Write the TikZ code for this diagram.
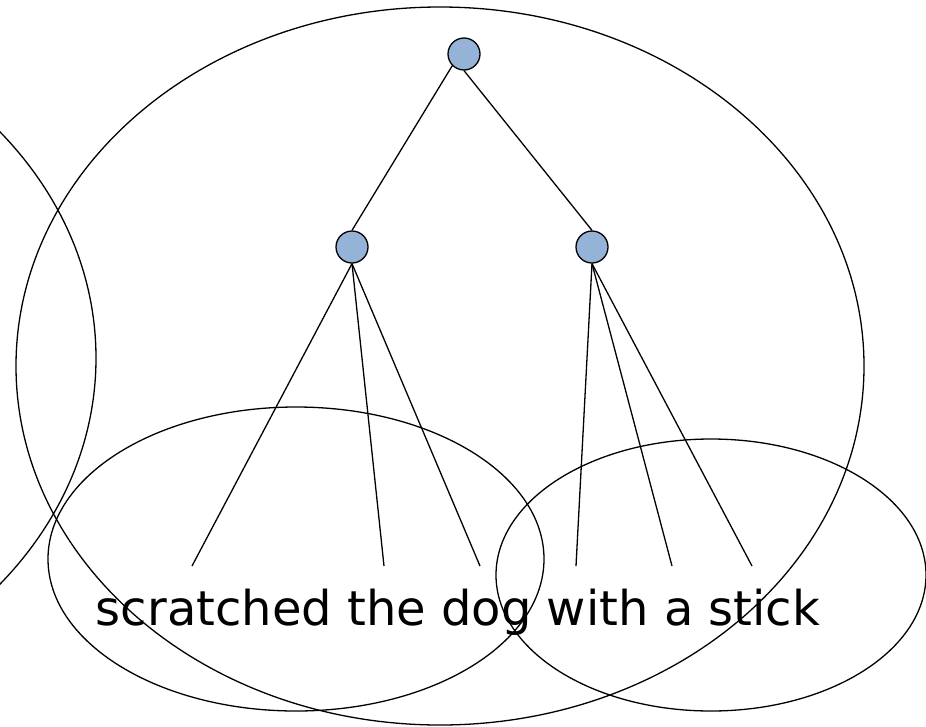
\documentclass[tikz,border=0pt]{standalone}
\usepackage{fontspec}
\setmainfont{DejaVu Sans}
\definecolor{nodeFill}{HTML}{95B3D7}
\begin{document}
\begin{tikzpicture}[x=1pt,y=-1pt,line width=1.3pt,
  treenode/.style={circle,draw,fill=nodeFill,minimum size=32pt,inner sep=0pt}]
\useasboundingbox (0,0) rectangle (926,726);
% constituent ellipses
\draw (440,366) ellipse [x radius=424pt,y radius=359pt];
\draw (-334,358) ellipse [x radius=430pt,y radius=359pt];
\draw (296,559) ellipse [x radius=248pt,y radius=152pt];
\draw (711,575) ellipse [x radius=215pt,y radius=136pt];
% tree
\node[treenode] (root) at (464,54) {};
\node[treenode] (np) at (352,247) {};
\node[treenode] (pp) at (592,247) {};
\draw (root.south west) -- (np.north);
\draw (root.south) -- (pp.north);
\foreach \x/\name in {192/w1,384/w2,480/w3,576/w4,672/w5,752/w6}
  \coordinate (\name) at (\x,566);
\foreach \name in {w1,w2,w3} \draw (np.south) -- (\name);
\foreach \name in {w4,w5,w6} \draw (pp.south) -- (\name);
\node[font=\fontsize{48}{58}\selectfont,inner sep=0pt,anchor=base] (words) at (458,625)
  {scratched the dog with a stick};
\end{tikzpicture}
\end{document}
